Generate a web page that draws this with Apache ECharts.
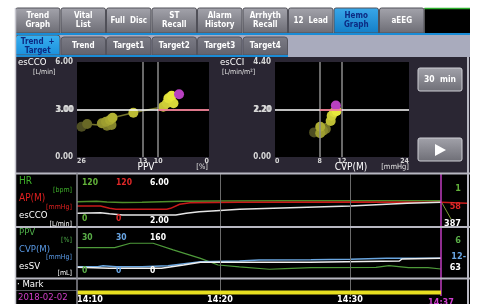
<!DOCTYPE html>
<html>
<head>
<meta charset="utf-8">
<script src="https://cdn.jsdelivr.net/npm/echarts@6/dist/echarts.min.js"></script>
<style>
html,body{margin:0;padding:0;background:#fff;}
#main{width:477px;height:304px;}
</style>
</head>
<body>
<div id="main"></div>
<script>
// tabs
var topTabs = ['Trend\nGraph', 'Vital\nList', 'Full  Disc', 'ST\nRecall', 'Alarm\nHistory', 'Arrhyth\nRecall', '12  Lead', 'Hemo\nGraph', 'aEEG'];
var subTabs = ['Trend  +\nTarget', 'Trend', 'Target1', 'Target2', 'Target3', 'Target4'];
var topActive = 7, subActive = 0;

// target plots: [PPV %, esCCO L/min] and [CVP mmHg, esCCI L/min/m2], oldest first
var ppvCco = [[25.1,1.91],[24.0,2.08],[20.1,1.98],[19.2,2.02],[21.1,2.13],[20.3,2.23],[19.5,2.34],[19.0,2.48],[14.9,2.8],[9.0,3.18],[8.3,3.39],[7.0,3.39],[8.0,3.71],[7.35,3.87],[5.9,3.96]];
var cvpCci = [[7.0,1.14],[9.1,1.30],[8.6,1.22],[8.1,1.10],[8.1,1.40],[9.97,1.67],[10.15,1.91],[10.6,2.07],[11.05,2.13],[10.9,2.38]];
var ppvTicks = [0, 10, 13, 26];
var ppvRefs = [13, 10];
var cvpTicks = [0, 8, 12, 24];
var cvpRefs = [8, 12];
var ccoTarget = 3.00, cciTarget = 2.20;

// trends, time in minutes after 14:00
var hrTrend  = [[9,55.6],[10.5,57],[11.3,54.5],[12.5,53.5],[14,54],[15.5,55.5],[17,57],[20,57.5],[25,58],[30,58.2],[37,58.2]];
var apTrend  = [[9,44.3],[10.8,44.3],[11.5,38.3],[12,36],[15.9,35.7],[16.2,38.3],[16.9,48.8],[17.7,53],[21.5,54],[30,54.5],[37,54],[39,51.4]];
var coTrend  = [[9,2.84],[10.8,2.90],[11.5,2.81],[12.5,2.70],[16.6,2.70],[17.4,2.84],[18.4,2.98],[19.7,3.07],[21.5,3.19],[24.1,3.28],[30,3.48],[34.4,3.71],[37,3.8]];
var ppvTrend = [[9,19],[11.9,19],[13.1,22.3],[14.85,22.3],[16.4,17.3],[18.5,11],[19.85,6],[21.5,4.6],[23.8,2.8],[25,3.3],[27,4],[32,4.2],[33,5.5],[34.5,4],[36,4],[37,3]];
var cvpTrend = [[9,4.7],[10.6,4.7],[11,5.5],[12,4.7],[14,4.7],[16,5.5],[18.5,8.5],[21.5,9],[23,9.75],[27,9.9],[30,10.3],[32.8,11],[37,11]];
var svTrend  = [[9,22.8],[11.5,18.8],[15.5,18.8],[17.2,32],[18.5,42.8],[21.5,42.8],[26.9,42.8],[27,48],[33.8,48],[34,56],[37,58.8]];
var hrRange = [0,120], apRange = [0,120], coRange = [2,6];
var ppvRange = [0,30], cvpRange = [0,30], svRange = [0,160];
var nowValues1 = ['1', '58', '387'];
var nowValues2 = ['6', '12-', '63'];
var timeStart = 9, timeEnd = 39;
var timeTicks = [10, 20, 30];
var cursorTime = 37;

var FONT = "'Liberation Sans Narrow','DejaVu Sans Condensed',Roboto,sans-serif";
var G = echarts.graphic;
var els = [];

function rect(x, y, w, h, fill, z, extra) {
    var o = {type:'rect', shape:{x:x, y:y, width:w, height:h, r:(extra && extra.r) || 0}, style:{fill:fill}, z:z || 0, silent:true};
    if (extra && extra.stroke) { o.style.stroke = extra.stroke; o.style.lineWidth = extra.lw || 1; }
    els.push(o);
}
function txt(x, y, s, color, size, align, bold, z) {
    els.push({type:'text', x:x, y:y, z:z || 10, silent:true, style:{text:s, fill:color, align:align || 'left', verticalAlign:'middle',
        font:(bold ? 'bold ' : '') + size + 'px ' + FONT, lineHeight:size + 1}});
}
function hline(x1, x2, y, color, w, z) {
    els.push({type:'line', z:z || 6, silent:true, shape:{x1:x1, y1:y, x2:x2, y2:y}, style:{stroke:color, lineWidth:w || 1}});
}
function vline(x, y1, y2, color, w, z) {
    els.push({type:'line', z:z || 6, silent:true, shape:{x1:x, y1:y1, x2:x, y2:y2}, style:{stroke:color, lineWidth:w || 1}});
}
function grad(c1, c2) {
    return new G.LinearGradient(0, 0, 0, 1, [{offset:0, color:c1}, {offset:1, color:c2}]);
}

// top tab bar
var tabW = 45.5;
topTabs.forEach(function (t, i) {
    var x = 15 + i * tabW;
    var on = i === topActive;
    rect(x + 0.5, 8, tabW - 1, 25, on ? grad('#3aa8ea', '#137ec6') : grad('#a4a4ac', '#6c6c74'), 1, {r:[2,2,0,0], stroke:'#505058'});
    txt(x + tabW / 2, 20.5, t, on ? '#0c2a82' : '#ffffff', 8, 'center', true);
});
rect(15 + 9 * tabW, 8, 470 - 15 - 9 * tabW, 25, '#000000', 1);
hline(15 + 9 * tabW, 470, 8.5, '#2fb02f', 1.5);
rect(15, 33, 455, 24, '#a9abbd', 0);
hline(15, 470, 34, '#1a8cd6', 2);
hline(15, 15 + 6 * tabW, 56, '#1a8cd6', 2);
subTabs.forEach(function (t, i) {
    var x = 15 + i * tabW;
    var on = i === subActive;
    rect(x + 0.5, on ? 35 : 37, tabW - 1, on ? 20 : 18, on ? grad('#3ab0f0', '#1a90dc') : grad('#7c7c86', '#62626c'), 1, {r:[3,3,0,0], stroke:'#55555e'});
    txt(x + tabW / 2, 46, t, on ? '#0c2a82' : '#ffffff', 8, 'center', true);
});

// target section
rect(15, 57, 455, 116, '#2a2633', 0);
rect(77, 62, 132, 95, '#000000', 0);
rect(275, 62, 134, 95, '#000000', 0);
txt(18, 63, 'esCCO', '#ffffff', 9.5, 'left', false);
txt(33, 72, '[L/min]', '#e0e0e0', 7, 'left', false);
txt(220, 63, 'esCCI', '#ffffff', 9.5, 'left', false);
txt(222, 72, '[L/min/m\u00b2]', '#e0e0e0', 7, 'left', false);
txt(208, 167, '[%]', '#e0e0e0', 7.5, 'right', false);
txt(409, 167, '[mmHg]', '#e0e0e0', 7.5, 'right', false);
rect(418, 68, 44, 23, grad('#a2a2aa', '#6e6e76'), 1, {r:2, stroke:'#cfcfd6'});
txt(440, 79.5, '30  min', '#ffffff', 8.5, 'center', true);
rect(418, 138, 44, 23, grad('#a2a2aa', '#6e6e76'), 1, {r:2, stroke:'#cfcfd6'});
els.push({type:'polygon', z:10, silent:true, shape:{points:[[435,144],[435,156],[446,150]]}, style:{fill:'#ffffff'}});

// trend section
rect(15, 173, 455, 131, '#000000', 0);
hline(15, 470, 173.5, '#b8b8c2', 2);
hline(15, 470, 227, '#b8b8c2', 2);
hline(15, 470, 278.5, '#b8b8c2', 2);
hline(15, 77, 290.5, '#55555c', 1);
vline(15.5, 8, 304, '#c8c8d0', 1.5, 7);
vline(77, 173, 304, '#8a8a92', 1.5, 7);
vline(468, 57, 304, '#b8b8c2', 2, 7);

txt(19, 181.5, 'HR', '#3fb02a', 10, 'left');
txt(72, 190, '[bpm]', '#3fb02a', 7, 'right');
txt(19, 198.5, 'AP(M)', '#e02020', 10, 'left');
txt(72, 207, '[mmHg]', '#e02020', 7, 'right');
txt(19, 216, 'esCCO', '#ffffff', 9.5, 'left');
txt(72, 224, '[L/min]', '#ffffff', 7, 'right');
txt(19, 232.5, 'PPV', '#4fb04a', 9.5, 'left');
txt(72, 240, '[%]', '#4fb04a', 7, 'right');
txt(19, 250, 'CVP(M)', '#5a9ae6', 9.5, 'left');
txt(72, 257, '[mmHg]', '#5a9ae6', 7, 'right');
txt(19, 266.5, 'esSV', '#ffffff', 9.5, 'left');
txt(72, 273, '[mL]', '#ffffff', 7, 'right');
txt(17, 285, '\u00b7 Mark', '#ffffff', 9.5, 'left');
txt(18, 298, '2018-02-02', '#d13fc8', 9.5, 'left');

var c1 = ['#62b23a', '#e02828', '#ffffff'];
var c2 = ['#5aae48', '#6aa6e4', '#ffffff'];
[hrRange, apRange, coRange].forEach(function (r, i) {
    var f = i === 2 ? function (v) { return v.toFixed(2); } : String;
    txt(82 + i * 34, 183, f(r[1]), c1[i], 8.5, 'left', true);
    txt(82 + i * 34, 219 + (i === 2 ? 2 : 0), f(r[0]), c1[i], 8.5, 'left', true);
});
[ppvRange, cvpRange, svRange].forEach(function (r, i) {
    txt(82 + i * 34, 238, String(r[1]), c2[i], 8.5, 'left', true);
    txt(82 + i * 34, 270.5, String(r[0]), c2[i], 8.5, 'left', true);
});
nowValues1.forEach(function (s, i) { txt(461, [189, 207, 224][i], s, c1[i], 9, 'right', true); });
nowValues2.forEach(function (s, i) { txt(i === 1 ? 466 : 461, [241, 256.5, 268][i], s, c2[i], 9, 'right', true); });
els.push({type:'line', z:8, silent:true, shape:{x1:442, y1:203, x2:451, y2:219}, style:{stroke:'#7c9a34', lineWidth:1}});

// colours of the target points, oldest dark olive -> newest yellow, current magenta
function pointColor(n) {
    return function (p) {
        if (p.dataIndex === n - 1) return '#b840c0';
        var t = Math.pow(p.dataIndex / (n - 2), 0.7);
        var a = [78, 78, 34], b = [232, 232, 60];
        return 'rgb(' + a.map(function (v, k) { return Math.round(v + (b[k] - v) * t); }).join(',') + ')';
    };
}
var lblStyle = {color:'#d8d8d8', fontSize:8, fontFamily:FONT, fontWeight:'bold'};
var xLblStyle = {color:'#d8d8d8', fontSize:7, fontFamily:FONT, fontWeight:'bold'};
var fmt2 = function (v) { return v.toFixed(2); };

function targetMarks(refs, target, pinkFrom, pinkTo) {
    return {
        silent:true, symbol:'none', label:{show:false},
        data:[
            {xAxis:refs[0], lineStyle:{color:'#8c8c8c', width:1.5, type:'solid'}},
            {xAxis:refs[1], lineStyle:{color:'#8c8c8c', width:1.5, type:'solid'}},
            {yAxis:target, lineStyle:{color:'#ffffff', width:1.5, type:'solid'}},
            [{coord:[pinkFrom, target], lineStyle:{color:'#e8607a', width:1.5, type:'solid'}}, {coord:[pinkTo, target]}]
        ]
    };
}
function scatterY(grid, max, target) {
    return {gridIndex:grid, type:'value', position:'left', min:0, max:max, splitLine:{show:false}, axisLine:{show:false}, axisTick:{show:false},
            axisLabel:Object.assign({customValues:[0, target, max], margin:4, formatter:fmt2, padding:[3,0,0,0]}, lblStyle)};
}
function targetY(grid, max, target) {
    return {gridIndex:grid, type:'value', position:'left', offset:0, min:0, max:max, splitLine:{show:false}, axisLine:{show:false}, axisTick:{show:false},
            axisLabel:Object.assign({customValues:[target], margin:3, formatter:fmt2, padding:[0,0,4,0]}, lblStyle)};
}
function xName(name, pad) {
    return {name:name, nameLocation:'middle', nameGap:5, nameMoveOverlap:false,
            nameTextStyle:{color:'#ffffff', fontSize:10, fontFamily:FONT, verticalAlign:'top', padding:[0,0,0,pad]}};
}

var option = {
    backgroundColor:'#ffffff',
    animation:false,
    textStyle:{fontFamily:FONT},
    graphic:{elements:els},
    grid:[
        {left:77, top:62, width:132, height:95},
        {left:275, top:62, width:134, height:95},
        {left:77, top:177, width:390, height:46},
        {left:77, top:233, width:390, height:40},
        {left:77, top:292, width:390, height:4},
        {left:77, top:174, width:390, height:122}
    ],
    xAxis:[
        Object.assign({gridIndex:0, type:'value', min:0, max:26, inverse:true, splitLine:{show:false}, axisLine:{show:false}, axisTick:{show:false},
         axisLabel:Object.assign({customValues:ppvTicks, margin:1, alignMinLabel:'right', alignMaxLabel:'left'}, xLblStyle)}, xName('PPV', 6)),
        Object.assign({gridIndex:1, type:'value', min:0, max:24, splitLine:{show:false}, axisLine:{show:false}, axisTick:{show:false},
         axisLabel:Object.assign({customValues:cvpTicks, margin:1, alignMinLabel:'left', alignMaxLabel:'right'}, xLblStyle)}, xName('CVP(M)', 18)),
        {gridIndex:2, type:'value', min:timeStart, max:timeEnd, show:false},
        {gridIndex:3, type:'value', min:timeStart, max:timeEnd, show:false},
        {gridIndex:4, type:'value', min:timeStart, max:timeEnd, splitLine:{show:false}, axisLine:{show:false}, axisTick:{show:false},
         axisLabel:{customValues:timeTicks, margin:2, color:'#ffffff', fontSize:9, fontFamily:FONT, fontWeight:'bold',
                    formatter:function (v) { return '14:' + (v < 10 ? '0' : '') + v; }}},
        {gridIndex:5, type:'value', min:timeStart, max:timeEnd, show:false}
    ],
    yAxis:[
        scatterY(0, 6, ccoTarget),
        scatterY(1, 4.4, cciTarget),
        {gridIndex:2, type:'value', min:hrRange[0], max:hrRange[1], show:false},
        {gridIndex:2, type:'value', min:apRange[0], max:apRange[1], show:false},
        {gridIndex:2, type:'value', min:coRange[0], max:coRange[1], show:false},
        {gridIndex:3, type:'value', min:ppvRange[0], max:ppvRange[1], show:false},
        {gridIndex:3, type:'value', min:cvpRange[0], max:cvpRange[1], show:false},
        {gridIndex:3, type:'value', min:svRange[0], max:svRange[1], show:false},
        {gridIndex:4, type:'value', min:-1, max:1, show:false},
        {gridIndex:5, type:'value', min:0, max:1, show:false},
        targetY(0, 6, ccoTarget),
        targetY(1, 4.4, cciTarget)
    ],
    series:[
        {type:'line', xAxisIndex:0, yAxisIndex:0, data:ppvCco, symbol:'none', z:3, lineStyle:{color:'#74742c', width:1.5},
         markLine:targetMarks(ppvRefs, ccoTarget, 10, 0)},
        {type:'scatter', xAxisIndex:0, yAxisIndex:0, data:ppvCco, symbolSize:10, z:4, itemStyle:{color:pointColor(ppvCco.length), opacity:1}},
        {type:'line', xAxisIndex:1, yAxisIndex:1, data:cvpCci, symbol:'none', z:3, lineStyle:{color:'#74742c', width:1.5},
         markLine:targetMarks(cvpRefs, cciTarget, 8, 12)},
        {type:'scatter', xAxisIndex:1, yAxisIndex:1, data:cvpCci, symbolSize:10, z:4, itemStyle:{color:pointColor(cvpCci.length), opacity:1}},

        {type:'line', xAxisIndex:2, yAxisIndex:2, data:hrTrend, symbol:'none', z:3, lineStyle:{color:'#4f8e2a', width:1.5}},
        {type:'line', xAxisIndex:2, yAxisIndex:3, data:apTrend, symbol:'none', z:3, lineStyle:{color:'#c81a1a', width:1.5}},
        {type:'line', xAxisIndex:2, yAxisIndex:4, data:coTrend, symbol:'none', z:3, lineStyle:{color:'#e6e6e6', width:1.5}},
        {type:'line', xAxisIndex:3, yAxisIndex:5, data:ppvTrend, symbol:'none', z:3, lineStyle:{color:'#4e9a3a', width:1.2}},
        {type:'line', xAxisIndex:3, yAxisIndex:6, data:cvpTrend, symbol:'none', z:3, lineStyle:{color:'#6aa6e0', width:1.5}},
        {type:'line', xAxisIndex:3, yAxisIndex:7, data:svTrend, symbol:'none', z:3, lineStyle:{color:'#f0f0f0', width:1.5}},

        {type:'line', xAxisIndex:4, yAxisIndex:8, data:[[timeStart, 0], [cursorTime, 0]], symbol:'none', z:5,
         lineStyle:{color:'#e8e020', width:4}},
        {type:'line', xAxisIndex:5, yAxisIndex:9, data:[], z:1,
         markLine:{silent:true, symbol:'none', label:{show:false},
                   data:timeTicks.slice(1).map(function (t) { return {xAxis:t}; }),
                   lineStyle:{color:'#6a6a6a', width:1, type:'solid'}}},
        {type:'line', xAxisIndex:5, yAxisIndex:9, data:[], z:6,
         markLine:{silent:true, symbol:'none',
                   data:[{xAxis:cursorTime}],
                   lineStyle:{color:'#c03cc0', width:1.5, type:'solid'},
                   label:{show:true, position:'start', distance:2, color:'#d040d0', fontSize:9, fontFamily:FONT, fontWeight:'bold',
                          formatter:'14:' + cursorTime}}}
    ]
};
var chart = echarts.init(document.getElementById('main'));
chart.setOption(option);
</script>
</body>
</html>
